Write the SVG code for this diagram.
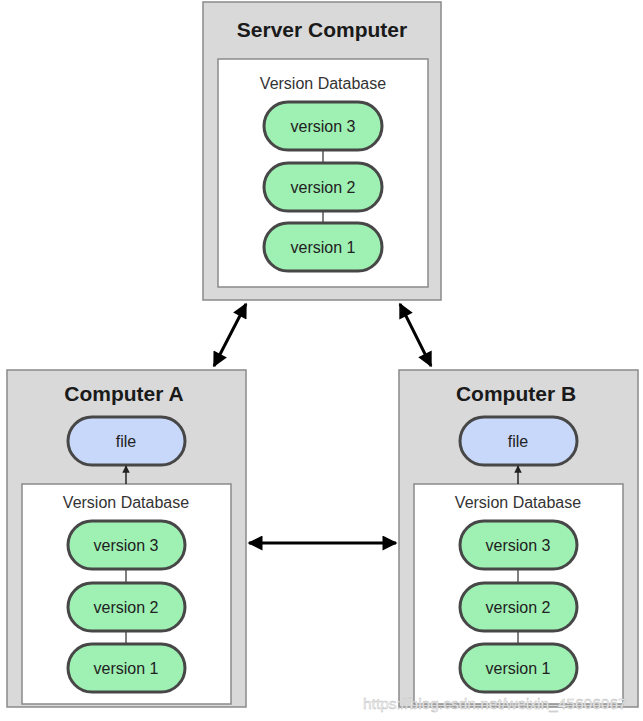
<svg xmlns="http://www.w3.org/2000/svg" width="643" height="721" viewBox="0 0 643 721">
<defs>
<style>
.box{fill:#d9d9d9;stroke:#8a8a8a;stroke-width:1.5}
.db{fill:#fff;stroke:#8a8a8a;stroke-width:1.5}
.v{fill:#9ef0b3;stroke:#474747;stroke-width:3}
.f{fill:#c8d8fa;stroke:#474747;stroke-width:3}
.title{font-family:"Liberation Sans",Arial,sans-serif;font-weight:bold;font-size:21px;fill:#1a1a1a;text-anchor:middle}
.lbl{font-family:"Liberation Sans",Arial,sans-serif;font-size:16px;fill:#333;text-anchor:middle}
.pl{font-family:"Liberation Sans",Arial,sans-serif;font-size:16px;fill:#222;text-anchor:middle}
.link{stroke:#555;stroke-width:1.5}
.arr{stroke:#000;stroke-width:3;fill:none}
.sarr{stroke:#222;stroke-width:1.5;fill:none}
</style>
<marker id="ah" viewBox="0 0 10 10" refX="9" refY="5" markerWidth="5.5" markerHeight="5" orient="auto-start-reverse" markerUnits="strokeWidth">
<path d="M0,0 L10,5 L0,10 z" fill="#000"/>
</marker>
<marker id="sah" viewBox="0 0 10 10" refX="9" refY="5" markerWidth="5" markerHeight="5" orient="auto" markerUnits="strokeWidth">
<path d="M0,0 L10,5 L0,10 z" fill="#222"/>
</marker>
</defs>
<rect width="643" height="721" fill="#fff"/>

<g id="server">
<rect class="box" x="203" y="2" width="238" height="298"/>
<text class="title" x="322" y="37">Server Computer</text>
<rect class="db" x="218" y="59" width="210" height="228"/>
<text class="lbl" x="323" y="89">Version Database</text>
<line class="link" x1="323" y1="150" x2="323" y2="162"/>
<line class="link" x1="323" y1="211" x2="323" y2="223"/>
<rect class="v" x="264" y="102" width="118" height="48" rx="24"/>
<text class="pl" x="323" y="132">version 3</text>
<rect class="v" x="264" y="163" width="118" height="48" rx="24"/>
<text class="pl" x="323" y="193">version 2</text>
<rect class="v" x="264" y="223" width="118" height="48" rx="24"/>
<text class="pl" x="323" y="253">version 1</text>
</g>

<g id="computerA">
<rect class="box" x="7" y="370" width="239" height="337"/>
<text class="title" x="124" y="401">Computer A</text>
<rect class="f" x="68" y="417" width="117" height="48" rx="24"/>
<text class="pl" x="126" y="447">file</text>
<rect class="db" x="22" y="484" width="209" height="220"/>
<text class="lbl" x="126" y="508">Version Database</text>
<line class="link" x1="126" y1="569" x2="126" y2="583"/>
<line class="link" x1="126" y1="631" x2="126" y2="643"/>
<rect class="v" x="68" y="521" width="117" height="48" rx="24"/>
<text class="pl" x="126" y="551">version 3</text>
<rect class="v" x="68" y="583" width="117" height="48" rx="24"/>
<text class="pl" x="126" y="613">version 2</text>
<rect class="v" x="68" y="644" width="117" height="48" rx="24"/>
<text class="pl" x="126" y="674">version 1</text>
</g>

<g id="computerB">
<rect class="box" x="399" y="370" width="239" height="337"/>
<text class="title" x="516" y="401">Computer B</text>
<rect class="f" x="460" y="417" width="117" height="48" rx="24"/>
<text class="pl" x="518" y="447">file</text>
<rect class="db" x="414" y="484" width="209" height="220"/>
<text class="lbl" x="518" y="508">Version Database</text>
<line class="link" x1="518" y1="569" x2="518" y2="583"/>
<line class="link" x1="518" y1="631" x2="518" y2="643"/>
<rect class="v" x="460" y="521" width="117" height="48" rx="24"/>
<text class="pl" x="518" y="551">version 3</text>
<rect class="v" x="460" y="583" width="117" height="48" rx="24"/>
<text class="pl" x="518" y="613">version 2</text>
<rect class="v" x="460" y="644" width="117" height="48" rx="24"/>
<text class="pl" x="518" y="674">version 1</text>
</g>

<g id="connectors">
<line class="arr" x1="246" y1="304" x2="214" y2="366" marker-start="url(#ah)" marker-end="url(#ah)"/>
<line class="arr" x1="400" y1="304" x2="431" y2="366" marker-start="url(#ah)" marker-end="url(#ah)"/>
<line class="arr" x1="249" y1="543" x2="396" y2="543" marker-start="url(#ah)" marker-end="url(#ah)"/>
<line class="sarr" x1="126" y1="484" x2="126" y2="466" marker-end="url(#sah)"/>
<line class="sarr" x1="518" y1="484" x2="518" y2="466" marker-end="url(#sah)"/>
</g>

<text x="363" y="709" font-family="Liberation Sans,Arial,sans-serif" font-size="15.5" fill="#f4f4f4" stroke="#b8b8b8" stroke-width="0.4">https://blog.csdn.net/weixin_45606067</text>
</svg>
